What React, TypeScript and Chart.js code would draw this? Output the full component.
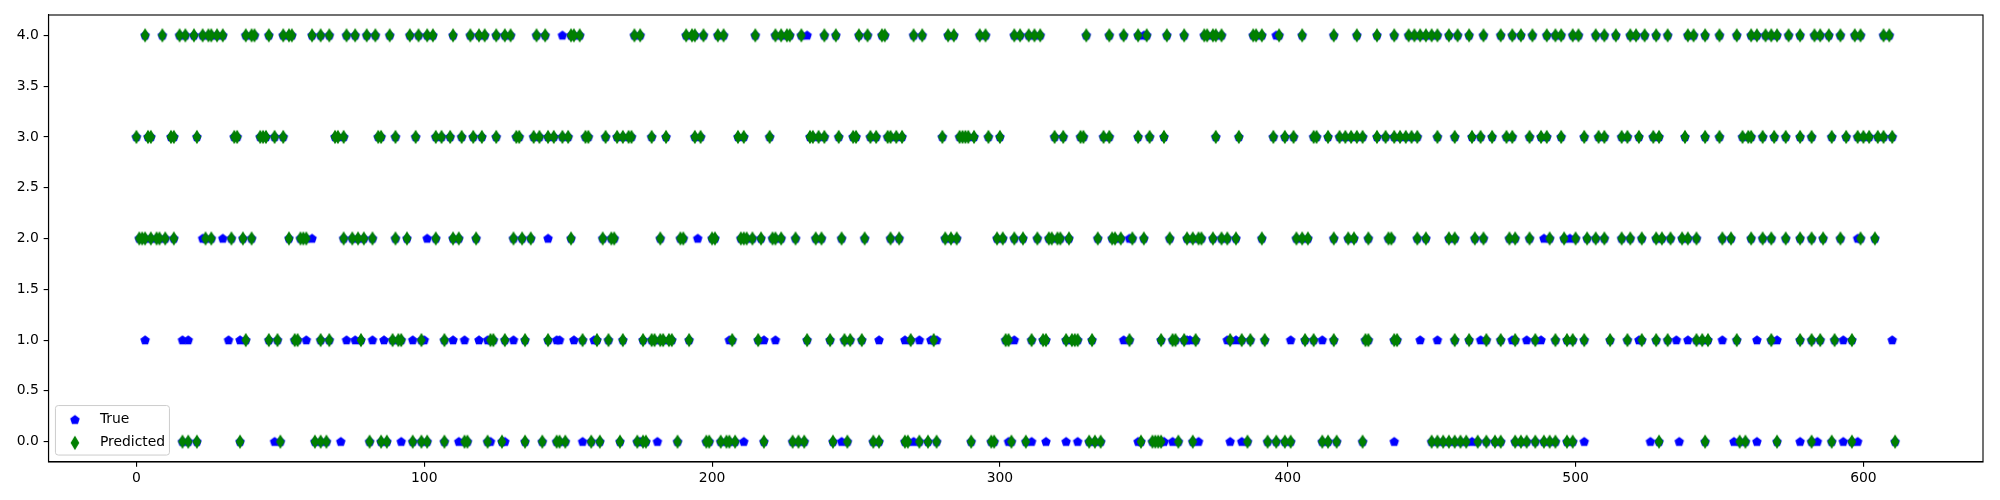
import React, { useEffect, useRef } from "react";
import { Chart, registerables } from "chart.js";

Chart.register(...registerables);

// x positions (sample index) of the "Predicted" markers in each class row
const pred4 = [3, 9, 15, 17, 20, 23, 25, 26, 28, 30, 38, 40, 41, 46, 51, 53, 54, 61, 64, 67, 73, 76, 80, 83, 88, 95, 98, 101, 103, 110, 116, 119, 121, 125, 128, 130, 139, 142, 151, 152, 154, 173, 175, 191, 193, 194, 197, 202, 204, 215, 222, 224, 226, 227, 231, 239, 243, 251, 254, 259, 260, 270, 273, 282, 284, 293, 295, 305, 307, 310, 312, 314, 330, 338, 343, 348, 351, 358, 364, 371, 372, 374, 375, 377, 388, 389, 391, 397, 405,
  416, 424, 431, 437, 442, 444, 446, 448, 450, 452, 456, 459, 463, 468, 474, 478, 481, 485, 490, 493, 495, 499, 501, 507, 510, 514, 519, 521, 524, 528, 532, 539, 541, 545, 550, 556, 561, 563, 566, 568, 570, 574, 578, 583, 585, 588, 592, 597, 599, 607, 609];
const pred3 = [0, 4, 5, 12, 13, 21, 34, 35, 43, 44, 45, 48, 51, 69, 70, 72, 84, 85, 90, 97, 104, 106, 109, 113, 117, 120, 125, 132, 133, 138, 140, 143, 145, 148, 150, 156, 157, 163, 167, 169, 171, 172, 179, 184, 194, 196, 209, 211, 220, 234, 235, 237, 239, 244, 249, 250, 255, 257, 261, 262, 264, 266, 280, 286, 287, 288, 289, 291, 296, 300, 319, 322, 328, 329, 336, 338, 348, 352, 357, 375, 383, 395, 399, 402, 409, 410,
  414, 418, 420, 422, 424, 426, 431, 434, 437, 439, 441, 443, 445, 452, 458, 464, 467, 471, 476, 478, 484, 488, 490, 495, 503, 508, 510, 516, 518, 522, 527, 529, 538, 545, 550, 558, 560, 561, 565, 569, 573, 578, 582, 589, 594, 598, 600, 602, 605, 607, 610];
const pred2 = [1, 2, 3, 5, 7, 8, 10, 13, 24, 26, 33, 37, 40, 53, 57, 58, 59, 72, 75, 77, 79, 82, 90, 94, 104, 110, 112, 118, 131, 134, 137, 151, 162, 165, 166, 182, 189, 190, 200, 201, 210, 211, 212, 214, 217, 221, 222, 224, 229, 236, 238, 245, 253, 262, 265, 281, 283, 285, 299, 301, 305, 308, 313, 317, 318, 320, 321, 324, 334, 339, 340, 342, 346, 350, 359, 365, 367, 369, 370, 374, 377, 379, 382, 391, 403, 405, 407,
  416, 421, 423, 428, 435, 436, 445, 448, 456, 458, 465, 468, 477, 479, 484, 491, 496, 500, 504, 507, 510, 516, 519, 523, 528, 530, 533, 537, 539, 542, 551, 554, 561, 565, 568, 573, 578, 582, 586, 592, 599, 604];
const pred1 = [38, 46, 49, 55, 56, 64, 67, 78, 89, 91, 92, 99, 107, 123, 124, 128, 135, 143, 155, 160, 164, 169, 176, 179, 180, 182, 183, 185, 186, 192, 207, 216, 233, 241, 246, 248, 252, 269, 277, 302, 303, 311, 315, 316, 323, 325, 326, 327, 332, 345, 356, 360, 361, 364, 368, 380, 384, 387, 392, 406, 409,
  416, 427, 428, 437, 438, 458, 463, 469, 474, 479, 486, 493, 497, 499, 503, 512, 518, 523, 528, 532, 542, 544, 546, 556, 568, 578, 582, 585, 590, 596];
const pred0 = [16, 18, 21, 36, 50, 62, 64, 66, 81, 85, 87, 96, 99, 101, 107, 114, 115, 122, 127, 135, 141, 146, 147, 149, 158, 161, 168, 174, 176, 177, 188, 198, 199, 203, 205, 206, 208, 218, 228, 230, 232, 242, 247, 256, 258, 267, 268, 272, 275, 278, 290, 297, 298, 304, 309, 331, 333, 335, 349, 353, 354, 355, 356, 362, 367, 386, 393, 396, 399, 401, 412,
  414, 417, 426, 450, 452, 454, 456, 458, 460, 462, 466, 469, 472, 474, 479, 481, 483, 486, 489, 491, 493, 497, 499, 529, 545, 557, 559, 570, 582, 589, 596, 611];

// x positions where the true class differs from the prediction (blue markers that stay visible)
const true4 = [148, 233, 350, 396];
const true3: number[] = [];
const true2 = [23, 30, 61, 101, 143, 195, 345, 489, 498, 598];
const true1 = [3, 16, 18, 32, 36, 59, 73, 76, 82, 86, 96, 100, 110, 114, 119, 122, 131, 146, 147, 152, 159, 206, 218, 222, 258, 267, 272, 276, 278, 305, 343, 365, 366, 379, 382, 401, 412,
  446, 452, 467, 478, 483, 488, 522, 535, 539, 551, 563, 570, 593, 610];
const true0 = [48, 71, 92, 112, 123, 128, 155, 175, 181, 211, 245, 270, 303, 311, 316, 323, 327, 348, 357, 360, 369, 380, 384,
  437, 464, 503, 526, 536, 555, 563, 578, 584, 593, 598];

const xTicks = [0, 100, 200, 300, 400, 500, 600];
const yTicks = [0, 0.5, 1, 1.5, 2, 2.5, 3, 3.5, 4];
const seriesLabels = ["True", "Predicted"];

const BLUE = "#0000ff";
const GREEN = "#008000";
const FONT = "DejaVu Sans";
const FS = 13.9;

function rowsToPoints(rows: number[][]) {
  const pts: { x: number; y: number }[] = [];
  rows.forEach((xs, cls) => xs.forEach((x) => pts.push({ x, y: cls })));
  return pts;
}

function makePentagon(): HTMLCanvasElement {
  const c = document.createElement("canvas");
  c.width = 12;
  c.height = 12;
  const ctx = c.getContext("2d")!;
  const r = 4.17;
  ctx.beginPath();
  for (let k = 0; k < 5; k++) {
    const a = -Math.PI / 2 + (k * 2 * Math.PI) / 5;
    const px = 6 + r * Math.cos(a);
    const py = 6.3 + r * Math.sin(a);
    if (k === 0) ctx.moveTo(px, py);
    else ctx.lineTo(px, py);
  }
  ctx.closePath();
  ctx.fillStyle = BLUE;
  ctx.fill();
  ctx.lineWidth = 1.39;
  ctx.strokeStyle = BLUE;
  ctx.stroke();
  return c;
}

function makeDiamond(): HTMLCanvasElement {
  const c = document.createElement("canvas");
  c.width = 10;
  c.height = 16;
  const ctx = c.getContext("2d")!;
  const hx = 3.54;
  const hy = 5.9;
  ctx.beginPath();
  ctx.moveTo(5, 8 - hy);
  ctx.lineTo(5 + hx, 8);
  ctx.lineTo(5, 8 + hy);
  ctx.lineTo(5 - hx, 8);
  ctx.closePath();
  ctx.fillStyle = GREEN;
  ctx.fill();
  ctx.lineWidth = 1.39;
  ctx.strokeStyle = GREEN;
  ctx.stroke();
  return c;
}

export default function App() {
  const ref = useRef<HTMLCanvasElement | null>(null);

  useEffect(() => {
    if (!ref.current) return;
    const pent = makePentagon();
    const diam = makeDiamond();
    const predRows = [pred0, pred1, pred2, pred3, pred4];
    const trueRows = [true0, true1, true2, true3, true4];
    // True values coincide with predictions except where the blue markers show
    const truePts = rowsToPoints(predRows).concat(rowsToPoints(trueRows));
    const predPts = rowsToPoints(predRows);

    const framePlugin = {
      id: "frame",
      afterDatasetsDraw(chart: any) {
        const { ctx, chartArea: a } = chart;
        ctx.save();
        ctx.strokeStyle = "#000";
        ctx.lineWidth = 1.11;
        ctx.strokeRect(a.left, a.top, a.right - a.left, a.bottom - a.top);
        ctx.restore();
      },
      afterDraw(chart: any) {
        const { ctx, chartArea: a } = chart;
        const left = a.left + 6.94;
        const w = 114;
        const h = 49.5;
        const bottom = a.bottom - 6.94;
        const top = bottom - h;
        ctx.save();
        ctx.beginPath();
        const r = 2.8;
        ctx.moveTo(left + r, top);
        ctx.lineTo(left + w - r, top);
        ctx.arcTo(left + w, top, left + w, top + r, r);
        ctx.lineTo(left + w, bottom - r);
        ctx.arcTo(left + w, bottom, left + w - r, bottom, r);
        ctx.lineTo(left + r, bottom);
        ctx.arcTo(left, bottom, left, bottom - r, r);
        ctx.lineTo(left, top + r);
        ctx.arcTo(left, top, left + r, top, r);
        ctx.closePath();
        ctx.fillStyle = "rgba(255,255,255,0.8)";
        ctx.fill();
        ctx.strokeStyle = "#cccccc";
        ctx.lineWidth = 1;
        ctx.stroke();
        const hx = left + 5.56 + 13.9;
        const tx = left + 5.56 + 27.8 + 11.1;
        const y1 = top + 5.56 + 8.6;
        const y2 = y1 + 23.1;
        ctx.drawImage(pent, hx - 6, y1 - 6);
        ctx.drawImage(diam, hx - 5, y2 - 8);
        ctx.fillStyle = "#000";
        ctx.font = `${FS}px "${FONT}"`;
        ctx.textBaseline = "middle";
        ctx.textAlign = "left";
        ctx.fillText(seriesLabels[0], tx, y1);
        ctx.fillText(seriesLabels[1], tx, y2);
        ctx.restore();
      },
    };

    const chart = new Chart(ref.current, {
      type: "scatter",
      data: {
        datasets: [
          {
            label: seriesLabels[0],
            data: truePts,
            pointStyle: pent as any,
            pointRadius: 5,
            order: 1,
          },
          {
            label: seriesLabels[1],
            data: predPts,
            pointStyle: diam as any,
            pointRadius: 5,
            order: 0,
          },
        ],
      },
      options: {
        responsive: false,
        animation: false,
        events: [],
        layout: { padding: { top: 15, right: 17, left: 0, bottom: 0 } },
        plugins: { legend: { display: false }, tooltip: { enabled: false } },
        scales: {
          x: {
            type: "linear",
            min: -30.55,
            max: 641.55,
            afterBuildTicks: (s: any) => {
              s.ticks = xTicks.map((v) => ({ value: v }));
            },
            afterFit: (s: any) => {
              s.height = 38;
            },
            ticks: {
              color: "#000",
              font: { family: FONT, size: FS },
              padding: 3,
              maxRotation: 0,
              callback: (v: any) => String(v),
            },
            grid: {
              drawOnChartArea: false,
              drawTicks: true,
              tickLength: 4.86,
              color: "#000",
              lineWidth: 1.11,
            },
            border: { display: true, color: "#000", width: 1.11 },
          },
          y: {
            type: "linear",
            min: -0.2,
            max: 4.2,
            afterBuildTicks: (s: any) => {
              s.ticks = yTicks.map((v) => ({ value: v }));
            },
            afterFit: (s: any) => {
              s.width = 48.5;
            },
            ticks: {
              color: "#000",
              font: { family: FONT, size: FS },
              padding: 4.86,
              callback: (v: any) => Number(v).toFixed(1),
            },
            grid: {
              drawOnChartArea: false,
              drawTicks: true,
              tickLength: 4.86,
              color: "#000",
              lineWidth: 1.11,
            },
            border: { display: true, color: "#000", width: 1.11 },
          },
        },
      },
      plugins: [framePlugin],
    });
    return () => chart.destroy();
  }, []);

  return (
    <div style={{ position: "absolute", left: 0, top: 0, width: 2000, height: 500, background: "#fff" }}>
      <canvas ref={ref} width={2000} height={500} style={{ display: "block" }} />
    </div>
  );
}
